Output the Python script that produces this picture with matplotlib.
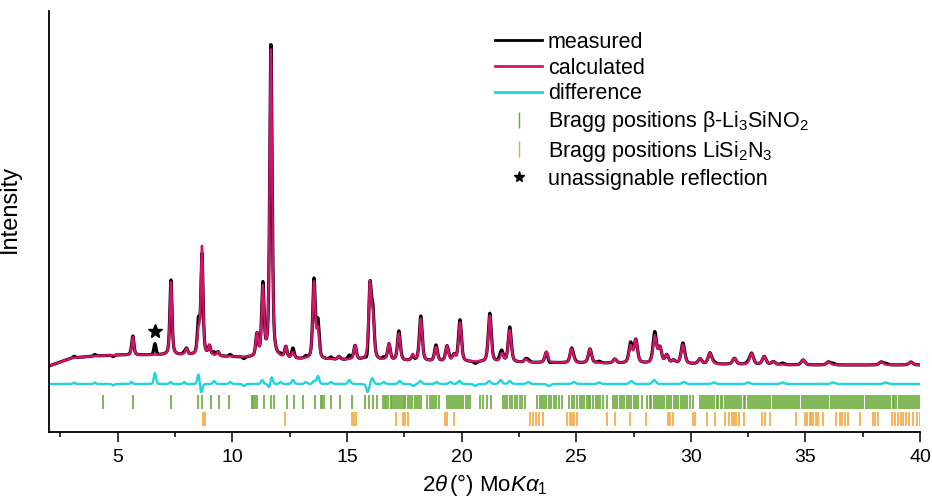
import numpy as np
import matplotlib
matplotlib.use('Agg')
import matplotlib.pyplot as plt
from matplotlib.lines import Line2D

plt.rcParams['font.family'] = ['Liberation Sans', 'DejaVu Sans']
plt.rcParams['mathtext.fontset'] = 'custom'
plt.rcParams['mathtext.rm'] = 'Liberation Sans'
plt.rcParams['mathtext.it'] = 'Liberation Sans:italic'

# Colours
c_meas = 'black'
c_calc = '#d6136a'
c_diff = '#22d3d8'
c_green = '#65a832'
c_orange = '#f79f30'

# Background control points (2theta, intensity a.u.)
bg_pos = [2.0, 2.5, 3.0, 4.0, 5.0, 8.0, 10.0, 12.0, 15.0, 20.0, 25.0, 30.0, 35.0, 40.0]
bg_val = [66, 70, 74, 76, 77, 77, 75, 73, 72, 70, 69, 68, 67, 67]

# Calculated reflections: position, height above background
peak_pos = [5.66, 7.32, 8.00, 8.52, 8.67, 9.00, 9.37, 11.07, 11.33, 11.68,
            12.33, 12.64, 13.56, 13.73, 14.65, 15.35, 16.00, 16.13, 16.83,
            17.26, 17.87, 18.22, 18.88, 19.36, 19.67, 19.93, 21.23, 21.76,
            22.10, 22.80, 23.70, 24.80, 25.60, 26.68, 27.37, 27.60, 28.43,
            28.65, 28.95, 29.25, 29.65, 30.40, 30.83, 31.90, 32.65, 33.20,
            33.60, 34.90, 36.00, 38.30, 39.60]
peak_hgt = [18, 73, 6, 22, 108, 9, 4, 22, 68, 308,
            11, 6, 76, 28, 3, 14, 73, 40, 16,
            27, 6, 42, 14, 15, 6, 39, 46, 8,
            32, 3, 11, 14, 14, 4, 17, 23, 27,
            15, 8, 3, 19, 5, 11, 6, 11, 8,
            3, 5, 3, 3, 3]

# Misfit (measured - calculated): position, amplitude
diff_pos = [3.1, 4.0, 4.8, 5.6, 6.62, 7.3, 7.9, 8.52, 8.64, 9.2, 9.9,
            10.5, 11.30, 11.62, 11.70, 12.10, 12.64, 13.2, 13.56, 13.73,
            14.3, 15.10, 15.90, 16.10, 16.6, 17.30, 17.9, 18.20, 18.9,
            19.5, 19.90, 20.6, 21.20, 21.70, 22.10, 22.9, 23.8, 24.9,
            26.0, 27.40, 28.40, 29.70, 31.0, 32.5, 34.0, 36.2, 38.5]
diff_amp = [1.5, 1.5, -1.5, 2, 11, 2, 2, 10, -9, 3, 2,
            -2, 4, -5, 8, 2, 4, 2, 3, 8,
            2, 4, -8, 6, 2, 3, -2, 3, 2,
            2, 3, -2, 3, 4, 3, 2, -2, 2,
            1.5, 3, 4, 2, 1.5, 1.5, 1.5, 1.5, 1.5]

# Bragg positions
bragg_green = [
    4.35, 5.67, 7.30, 8.50, 8.66, 9.05, 9.43, 9.85,
    10.85, 10.92, 11.00, 11.07, 11.38, 11.70, 11.80, 12.40, 12.70, 13.07,
    13.60, 13.85, 13.92, 14.00, 14.30, 14.70, 15.20, 15.80, 15.97, 16.15,
    16.30, 16.57, 16.64, 16.72, 16.80, 16.90, 16.97, 17.05, 17.15, 17.22,
    17.30, 17.40, 17.48, 17.55, 17.65, 17.75, 17.85, 17.95, 18.05, 18.15,
    18.22, 18.50, 18.60, 18.70, 18.78, 18.90, 19.00, 19.35, 19.45, 19.55,
    19.62, 19.72, 19.80, 19.90, 19.98, 20.08, 20.18, 20.28, 20.35,
    20.80, 20.95, 21.10, 21.30,
    21.80, 21.90, 21.98, 22.10, 22.20, 22.32, 22.40, 22.55, 22.65, 22.76,
    23.30, 23.40, 23.50, 23.58, 23.70, 23.80, 23.92, 24.02, 24.12, 24.25,
    24.40, 24.70, 24.80, 24.92, 25.05, 25.15,
    25.25, 25.35, 25.45, 25.55, 25.62, 25.72, 25.85, 25.95, 26.05, 26.15,
    26.33, 26.60, 26.70, 26.80, 26.90, 27.00, 27.10, 27.20, 27.30, 27.40,
    27.50, 27.60, 27.70, 27.85,
    28.10, 28.20, 28.28, 28.38, 28.48, 28.55, 28.65, 28.75, 28.85, 28.95,
    29.05, 29.15, 29.25, 29.35, 29.45, 29.55, 29.65, 29.75, 29.85, 29.95,
    30.10, 30.40, 30.48, 30.57, 30.66, 30.74, 30.85, 30.93, 31.02, 31.12,
    31.20, 31.30, 31.38, 31.47, 31.58, 31.66, 31.75, 31.85, 31.93, 32.02,
    32.12, 32.20, 32.30, 32.38, 32.48, 32.57, 32.66, 32.75, 32.84, 32.93,
    33.02, 33.12, 33.20, 33.30, 33.38, 33.47, 33.57, 33.66, 33.75, 33.84,
    33.93, 34.02, 34.11, 34.20, 34.30, 34.38, 34.47, 34.56, 34.65, 34.74,
    34.83, 34.92, 35.01, 35.10, 35.20, 35.28, 35.37, 35.46, 35.55, 35.64,
    35.73, 35.82, 35.91, 36.00, 36.10, 36.18, 36.27, 36.36, 36.45, 36.54,
    36.63, 36.72, 36.81, 36.90, 37.00, 37.08, 37.17, 37.26, 37.35, 37.44,
    37.53, 37.62, 37.71, 37.80, 37.90, 37.98, 38.07, 38.16, 38.25, 38.34,
    38.43, 38.52, 38.61, 38.70, 38.80, 38.88, 38.97, 39.06, 39.15, 39.24,
    39.33, 39.42, 39.51, 39.60, 39.70, 39.78, 39.87, 39.96,
]
bragg_orange = [
    8.70, 8.82, 12.30, 15.20, 15.30, 15.40, 17.13, 17.45, 17.55, 17.65,
    19.27, 19.35, 19.66, 23.00, 23.12, 23.25, 23.38, 23.55, 24.60, 24.72,
    24.82, 24.92, 25.05, 26.33, 26.68, 27.34, 28.03, 29.00, 29.10, 29.20,
    30.08, 30.17, 30.70, 31.05, 31.50, 31.65, 31.80, 31.88, 31.95, 32.10,
    32.30, 33.10, 33.25, 33.45, 34.60, 34.97, 35.08, 35.18, 35.25, 35.35,
    35.45, 35.55, 35.75, 36.35, 36.50, 36.60, 36.72, 36.85, 37.37, 37.95,
    38.05, 38.15, 38.77, 38.90, 39.02, 39.15, 39.25, 39.40, 39.52, 39.70,
    39.85, 40.00,
]

star_pos, star_int = 6.62, 101
diff_offset = 48


def pseudo_voigt(x, x0, h, fwhm, eta=0.5):
    g = np.exp(-4 * np.log(2) * ((x - x0) / fwhm) ** 2)
    lo = 1 / (1 + 4 * ((x - x0) / fwhm) ** 2)
    return h * (eta * lo + (1 - eta) * g)


tt = np.linspace(2, 40, 7601)
calc = np.interp(tt, bg_pos, bg_val).astype(float)
for p, h in zip(peak_pos, peak_hgt):
    calc += pseudo_voigt(tt, p, h, 0.09 + 0.003 * p)
misfit = np.zeros_like(tt)
for p, a in zip(diff_pos, diff_amp):
    misfit += pseudo_voigt(tt, p, a, 0.09 + 0.003 * p, eta=0.2)
meas = calc + misfit

fig = plt.figure(figsize=(9.32, 4.98), dpi=100)
ax = fig.add_axes([0.0526, 0.1325, 0.9346, 0.8454])

ax.plot(tt, meas, color=c_meas, lw=2.3)
ax.plot(tt, calc, color=c_calc, lw=1.7)
ax.plot(tt, misfit + diff_offset, color=c_diff, lw=1.7)
ax.vlines(bragg_green, 23, 37, color=c_green, lw=1.15)
ax.vlines(bragg_orange, 6, 20, color=c_orange, lw=1.1)
ax.plot(star_pos, star_int, marker='*', color='black', ms=10, ls='none')

ax.set_xlim(2, 40)
ax.set_ylim(0, 421)
ax.spines['top'].set_visible(False)
ax.spines['right'].set_visible(False)
for s in ['left', 'bottom']:
    ax.spines[s].set_linewidth(1.3)
ax.set_yticks([])
ax.set_xticks([5, 10, 15, 20, 25, 30, 35, 40])
ax.set_xticks(np.arange(2.5, 40, 5), minor=True)
ax.tick_params(axis='x', which='major', length=7.2, width=1.1,
               labelsize=14, pad=5)
ax.tick_params(axis='x', which='minor', length=3.6, width=1.1)

ax.set_ylabel('Intensity', fontsize=17)
ax.yaxis.set_label_coords(-0.032, 0.53)
fig.text(0.52, 1 - 485 / 498, r'2$\theta\,$(°) Mo$K\alpha_1$', fontsize=16,
         ha='center', va='center')

handles = [
    Line2D([], [], color=c_meas, lw=2),
    Line2D([], [], color=c_calc, lw=2),
    Line2D([], [], color=c_diff, lw=2),
    Line2D([], [], color=c_green, ls='none', marker='|', ms=12, mew=1),
    Line2D([], [], color=c_orange, ls='none', marker='|', ms=12, mew=1),
    Line2D([], [], color='black', ls='none', marker='*', ms=8),
]
labels = ['measured', 'calculated', 'difference',
          r'Bragg positions $\mathrm{\beta}$-Li$_3$SiNO$_2$',
          r'Bragg positions LiSi$_2$N$_3$',
          'unassignable reflection']
fig.legend(handles, labels, loc='upper left',
           bbox_to_anchor=(495 / 932, 1 - 32 / 498), frameon=False,
           fontsize=15.5, borderpad=0, borderaxespad=0, handlelength=2.2,
           handletextpad=0.25, labelspacing=0.22)

fig.savefig('out.png', dpi=100)
